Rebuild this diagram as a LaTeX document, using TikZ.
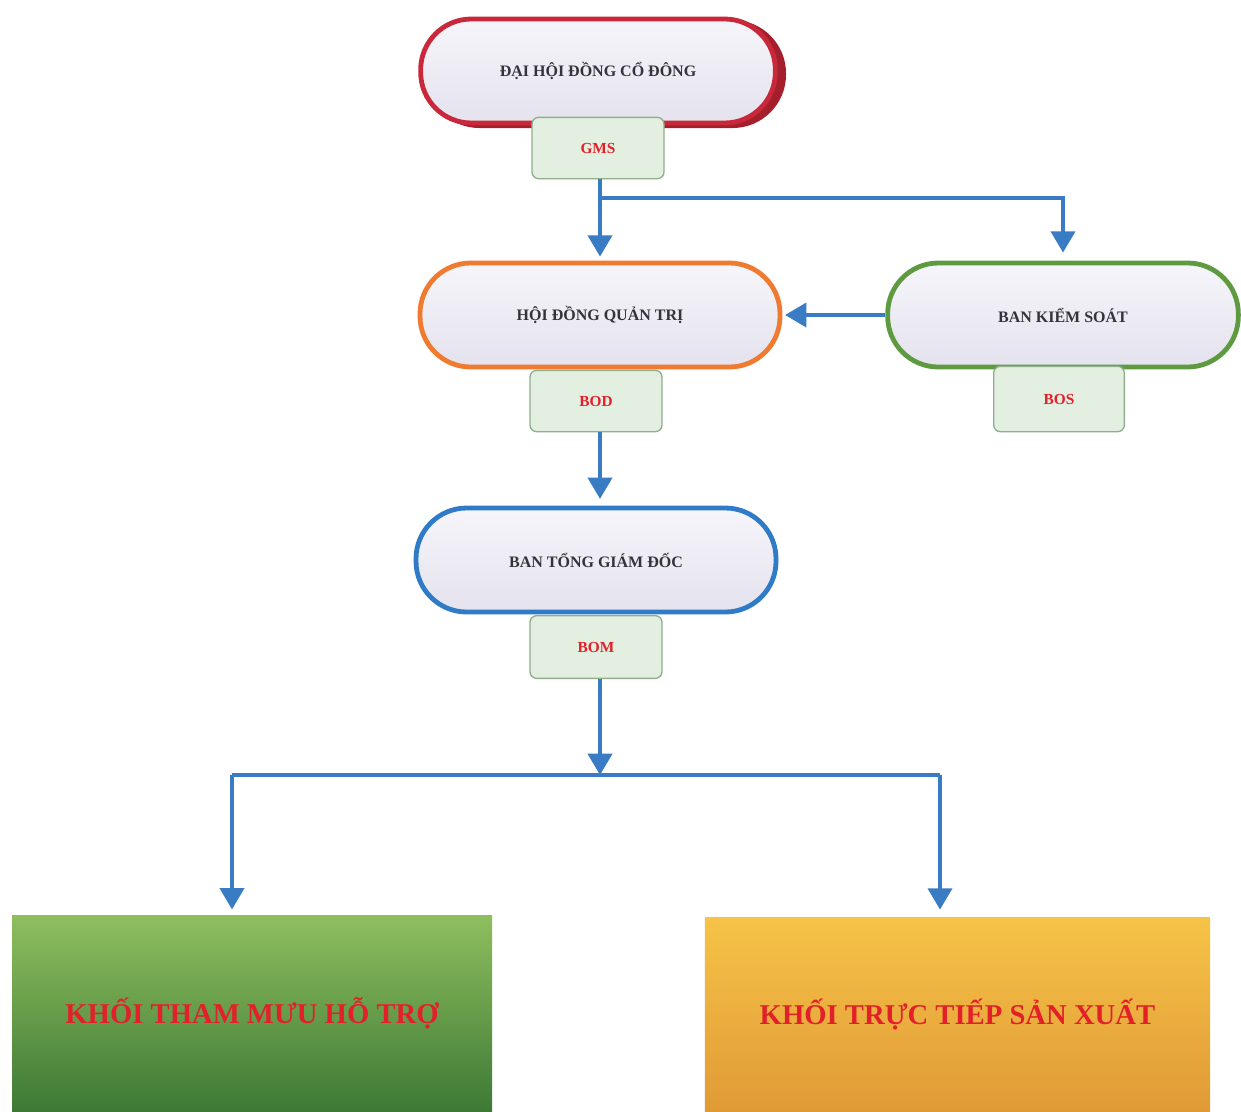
\documentclass[tikz,border=0pt]{standalone}
\usepackage{fontspec}
\setmainfont{Liberation Serif}
\usetikzlibrary{arrows.meta,calc}
\definecolor{arrblue}{HTML}{3A7CC4}
\definecolor{redb}{HTML}{C8283A}
\definecolor{redsh}{HTML}{A51E2C}
\definecolor{orangeb}{HTML}{F07A30}
\definecolor{greenb}{HTML}{5E9A40}
\definecolor{blueb}{HTML}{2F7BC8}
\definecolor{lav1}{HTML}{F6F5FA}
\definecolor{lav2}{HTML}{E4E3EE}
\definecolor{tagfill}{HTML}{E3EFE1}
\definecolor{tagdraw}{HTML}{8FAE8C}
\definecolor{txtred}{HTML}{E3202A}
\definecolor{txtdark}{HTML}{333338}
\definecolor{gtop}{HTML}{8EBE5E}
\definecolor{gbot}{HTML}{3E7A36}
\definecolor{otop}{HTML}{F6C347}
\definecolor{obot}{HTML}{E09A36}
\begin{document}
\begin{tikzpicture}[x=0.75pt,y=-0.75pt,
  stad/.style={draw, line width=3.6pt, rounded corners=38pt, top color=lav1, bottom color=lav2,
     minimum width=270pt, minimum height=78pt, inner sep=0pt,
     font=\fontsize{12}{14}\selectfont\bfseries, text=txtdark},
  tag/.style={draw=tagdraw, line width=1pt, fill=tagfill, rounded corners=5pt,
     minimum width=99pt, minimum height=46pt, inner sep=0pt,
     font=\fontsize{11.5}{13}\selectfont\bfseries, text=txtred},
  blk/.style={inner sep=0pt, font=\fontsize{21.5}{24}\selectfont\bfseries, text=txtred},
  conn/.style={draw=arrblue, line width=3pt},
  arr/.style={conn, -{Triangle[width=18pt,length=16pt]}},
]
\useasboundingbox (0,0) rectangle (1241,1111);
\fill[white] (0,0) rectangle (1241,1111);

% bottom blocks
\node[blk, minimum width=360pt, minimum height=147pt, top color=gtop, bottom color=gbot] (green) at (252,1013) {KHỐI THAM MƯU HỖ TRỢ};
\node[blk, minimum width=379pt, minimum height=145pt, top color=otop, bottom color=obot] (orange) at (957.5,1014.5) {KHỐI TRỰC TIẾP SẢN XUẤT};

% top stadium with shadow
\fill[redsh, rounded corners=40pt] (426,20) rectangle (786,128);
\node[stad, draw=redb, minimum width=266pt] (dh) at (598,71) {ĐẠI HỘI ĐỒNG CỔ ĐÔNG};
\node[tag] (gms) at (598,148) {GMS};

\node[stad, draw=orangeb] (hd) at (600,315) {HỘI ĐỒNG QUẢN TRỊ};
\node[tag] (bod) at (596,401) {BOD};

\node[stad, draw=greenb, minimum width=263pt] (bks) at (1063,315) {BAN KIỂM SOÁT};
\node[tag, minimum width=98pt, minimum height=49pt] (bos) at (1059,399) {BOS};

\node[stad, draw=blueb] (bt) at (596,560) {BAN TỔNG GIÁM ĐỐC};
\node[tag, minimum height=47pt] (bom) at (596,647) {BOM};

% connectors
\coordinate (j1) at (600,198);
\coordinate (j2) at (600,775);
\coordinate (gA) at (232,775);
\coordinate (oA) at (940,775);

\draw[arr, shorten >=3pt] (gms.south -| j1) -- (hd.north -| j1);
\draw[arr, shorten >=6pt] (j1) -| (bks.north);
\draw[arr, shorten >=2pt] (bks.west) -- (hd.east);
\draw[arr, shorten >=5pt] (bod.south -| j1) -- (bt.north -| j1);
\draw[arr, shorten >=0pt] (bom.south -| j2) -- (j2);
\draw[conn] (gA) -- (oA);
\draw[arr, shorten >=4pt] (gA) -- (gA |- green.north);
\draw[arr, shorten >=6pt] (oA) -- (oA |- orange.north);
\end{tikzpicture}
\end{document}
